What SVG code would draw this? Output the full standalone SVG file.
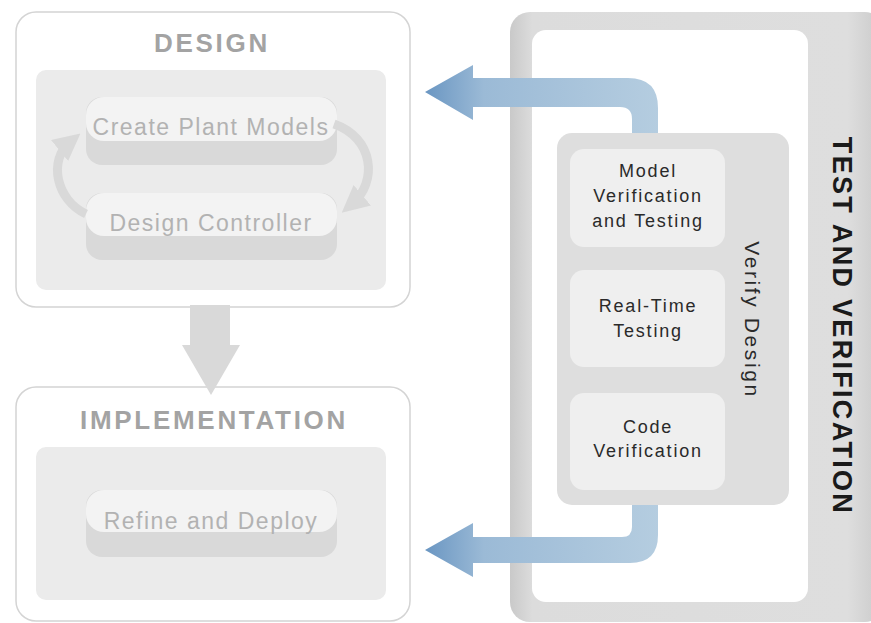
<svg xmlns="http://www.w3.org/2000/svg" width="871" height="623" viewBox="0 0 871 623">
  <defs>
    <style>
      .frame { fill: #ffffff; stroke: #d4d4d4; stroke-width: 1.5; }
      .panel { fill: #ebebeb; }
      .pill-base { fill: #d9d9d9; }
      .pill-top { fill: #f3f3f3; }
      .title { font-family: "Liberation Sans", "DejaVu Sans", sans-serif; font-weight: bold; font-size: 26px; fill: #a3a3a3; text-anchor: middle; letter-spacing: 2.7px; }
      .pill-text { font-family: "Liberation Sans", "DejaVu Sans", sans-serif; font-size: 23px; fill: #b2b2b2; text-anchor: middle; letter-spacing: 1.5px; }
      .loop { fill: none; stroke: #d9d9d9; stroke-width: 9; }
      .step { fill: #efefef; }
      .step-text { font-family: "Liberation Sans", "DejaVu Sans", sans-serif; font-size: 18px; fill: #2a2a2a; text-anchor: middle; letter-spacing: 1.8px; }
      .side-text { font-family: "Liberation Sans", "DejaVu Sans", sans-serif; font-size: 21px; fill: #2a2a2a; text-anchor: middle; letter-spacing: 2.6px; }
      .big-text { font-family: "Liberation Sans", "DejaVu Sans", sans-serif; font-weight: bold; font-size: 27px; fill: #1a1a1a; text-anchor: middle; letter-spacing: 2.3px; }
    </style>
    <linearGradient id="shellGrad" x1="0" y1="0" x2="1" y2="0">
      <stop offset="0" stop-color="#c9c9c9"/>
      <stop offset="0.06" stop-color="#dcdcdc"/>
      <stop offset="0.9" stop-color="#dedede"/>
      <stop offset="1" stop-color="#c8c8c8"/>
    </linearGradient>
    <linearGradient id="blueGrad" x1="425" y1="0" x2="660" y2="0" gradientUnits="userSpaceOnUse">
      <stop offset="0" stop-color="#6a96c2"/>
      <stop offset="0.25" stop-color="#9bbad6"/>
      <stop offset="1" stop-color="#b5cde0"/>
    </linearGradient>
    <marker id="loopHead" viewBox="0 0 10 10" refX="5" refY="5" markerWidth="3" markerHeight="3" orient="auto" markerUnits="strokeWidth">
      <path d="M0,0 L10,5 L0,10 z" fill="#d9d9d9"/>
    </marker>
  </defs>

  <!-- Design stage -->
  <g id="design">
    <rect class="frame" x="16" y="12" width="394" height="295" rx="20"/>
    <text class="title" x="212" y="52">DESIGN</text>
    <rect class="panel" x="36" y="70" width="350" height="220" rx="10"/>
  </g>

  <g id="create-plant-models">
    <rect class="pill-base" x="86" y="97" width="251" height="68" rx="16"/>
    <rect class="pill-top" x="86" y="97" width="251" height="44" rx="18"/>
    <text class="pill-text" x="211" y="135">Create Plant Models</text>
  </g>

  <g id="design-controller">
    <rect class="pill-base" x="86" y="193" width="251" height="67" rx="16"/>
    <rect class="pill-top" x="86" y="193" width="251" height="43" rx="18"/>
    <text class="pill-text" x="211" y="231">Design Controller</text>
  </g>

  <!-- Implementation stage -->
  <g id="implementation">
    <rect class="frame" x="16" y="387" width="394" height="234" rx="20"/>
    <text class="title" x="214" y="429">IMPLEMENTATION</text>
    <rect class="panel" x="36" y="447" width="350" height="153" rx="10"/>
  </g>

  <g id="refine-and-deploy">
    <rect class="pill-base" x="86" y="490" width="251" height="67" rx="16"/>
    <rect class="pill-top" x="86" y="490" width="251" height="42" rx="18"/>
    <text class="pill-text" x="211" y="529">Refine and Deploy</text>
  </g>

  <!-- Test and verification stage -->
  <g id="test-and-verification">
    <rect x="510" y="12" width="375" height="610" rx="20" fill="url(#shellGrad)"/>
    <rect x="532" y="30" width="276" height="572" rx="14" fill="#ffffff"/>
    <text class="big-text" transform="translate(833,326) rotate(90)">TEST AND VERIFICATION</text>
  </g>

  <g id="verify-design">
    <rect x="557" y="133" width="232" height="372" rx="15" fill="#dedede"/>
    <text class="side-text" transform="translate(745,320) rotate(90)">Verify Design</text>
  </g>

  <g id="model-verification">
    <rect class="step" x="570" y="149" width="155" height="98" rx="14"/>
    <text class="step-text" x="648" y="177">Model</text>
    <text class="step-text" x="648" y="202">Verification</text>
    <text class="step-text" x="648" y="227">and Testing</text>
  </g>

  <g id="real-time-testing">
    <rect class="step" x="570" y="270" width="155" height="97" rx="14"/>
    <text class="step-text" x="648" y="312">Real-Time</text>
    <text class="step-text" x="648" y="337">Testing</text>
  </g>

  <g id="code-verification">
    <rect class="step" x="570" y="393" width="155" height="97" rx="14"/>
    <text class="step-text" x="648" y="433">Code</text>
    <text class="step-text" x="648" y="457">Verification</text>
  </g>

  <!-- Connectors -->
  <g id="connectors">
    <!-- design loop -->
    <path class="loop" d="M86,214 C56,200 48,160 70,142" marker-end="url(#loopHead)"/>
    <path class="loop" d="M334,124 C374,138 378,182 352,204" marker-end="url(#loopHead)"/>

    <!-- design to implementation -->
    <path d="M190,305 L230,305 L230,345 L240,345 L211,395 L182,345 L190,345 z" fill="#d9d9d9"/>

    <!-- verification feedback to design -->
    <path d="M658,133 L658,108 Q658,78 628,78 L473,78 L473,65 L425,92 L473,120 L473,107 L620,107 Q632,107 632,119 L632,133 z" fill="url(#blueGrad)"/>

    <!-- verification feedback to implementation -->
    <path d="M632,505 L632,527 Q632,537 622,537 L473,537 L473,523 L425,550 L473,577 L473,563 L630,563 Q658,563 658,535 L658,505 z" fill="url(#blueGrad)"/>
  </g>
</svg>
